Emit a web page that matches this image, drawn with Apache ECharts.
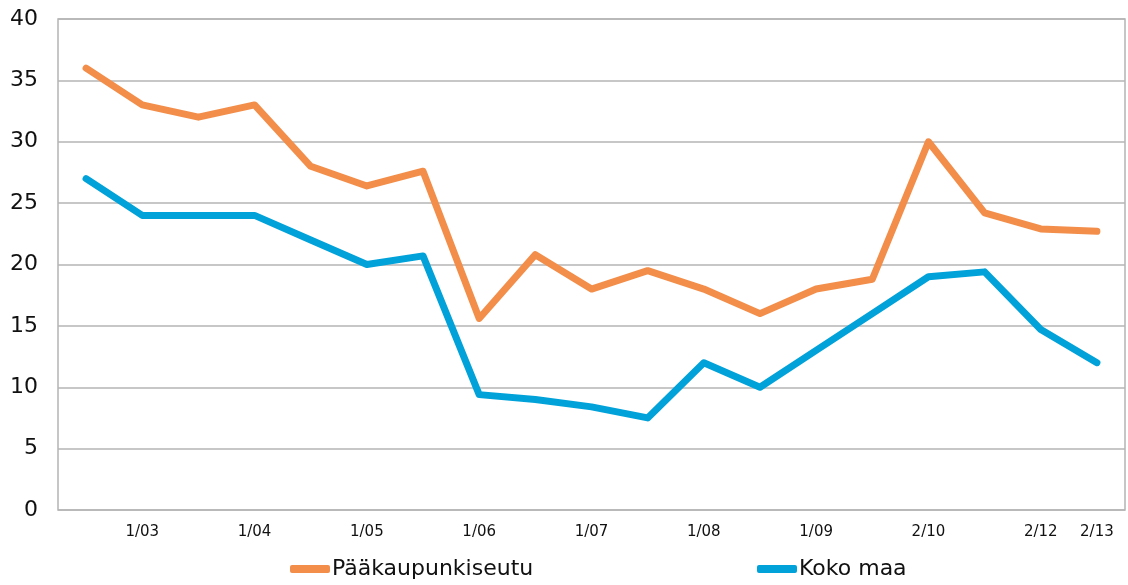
<!DOCTYPE html>
<html>
<head>
<meta charset="utf-8">
<script src="https://cdn.jsdelivr.net/npm/echarts@6/dist/echarts.min.js"></script>
<style>
  html, body { margin: 0; padding: 0; background: #fff; }
  #chart { width: 1128px; height: 585px; }
</style>
</head>
<body>
<div id="chart"></div>
<script>
// half-year periods; only some carry a printed label
const categories = ['', '1/03', '', '1/04', '', '1/05', '', '1/06', '', '1/07',
  '', '1/08', '', '1/09', '', '2/10', '', '2/12', '2/13'];
const capitalRegion = [36, 33, 32, 33, 28, 26.4, 27.6, 15.6, 20.8, 18, 19.5, 18, 16, 18, 18.8, 30, 24.2, 22.9, 22.7];
const wholeCountry = [27, 24, 24, 24, 22, 20, 20.7, 9.4, 9, 8.4, 7.5, 12, 10, 13, 16, 19, 19.4, 14.7, 12];
const yTicks = [0, 5, 10, 15, 20, 25, 30, 35, 40];

const font = 'DejaVu Sans';
const chart = echarts.init(document.getElementById('chart'));

const seriesLine = (name, data, color) => ({
  name: name,
  type: 'line',
  data: data,
  symbol: 'none',
  lineStyle: { width: 7, color: color, cap: 'round', join: 'round' },
  itemStyle: { color: color },
  animation: false
});

const legendBase = {
  bottom: 0,
  icon: 'roundRect',
  itemWidth: 40, itemHeight: 8, itemGap: 0,
  textStyle: { fontFamily: font, fontSize: 22, color: '#111', padding: [0, 0, 0, -3] }
};

chart.setOption({
  animation: false,
  grid: { left: 58, right: 3, top: 19, bottom: 75, show: true, borderColor: '#b4b4b4', borderWidth: 1.5 },
  legend: [
    Object.assign({ data: ['Pääkaupunkiseutu'], left: 285 }, legendBase),
    Object.assign({ data: ['Koko maa'], left: 752 }, legendBase)
  ],
  xAxis: {
    type: 'category',
    data: categories,
    boundaryGap: true,
    axisLine: { show: false },
    axisTick: { show: false },
    axisLabel: { interval: 0, fontFamily: font, fontSize: 15, color: '#111', margin: 15 }
  },
  yAxis: {
    type: 'value',
    min: yTicks[0],
    max: yTicks[yTicks.length - 1],
    interval: 5,
    axisLine: { show: false },
    axisTick: { show: false },
    axisLabel: { fontFamily: font, fontSize: 22, color: '#111', margin: 20 },
    splitLine: { lineStyle: { color: '#b4b4b4', width: 1.5 } }
  },
  series: [
    seriesLine('Pääkaupunkiseutu', capitalRegion, '#F38E4A'),
    seriesLine('Koko maa', wholeCountry, '#00A2D9')
  ]
});
</script>
</body>
</html>
